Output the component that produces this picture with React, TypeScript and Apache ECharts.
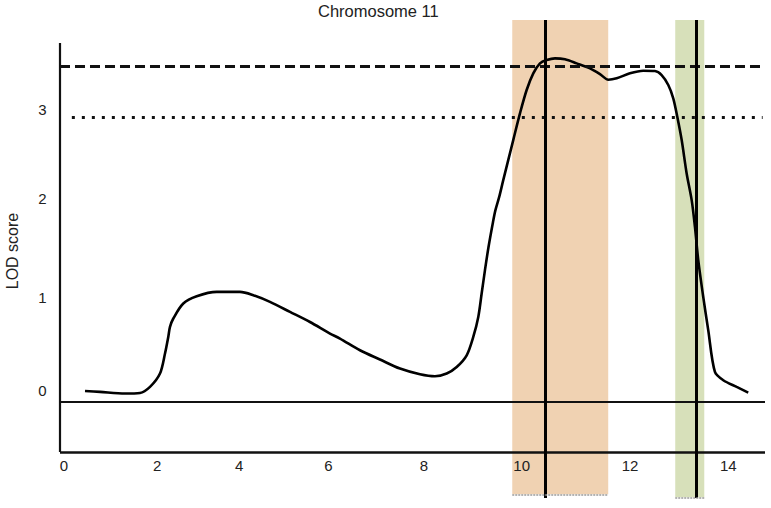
import React, { useEffect, useRef } from "react";
import * as echarts from "echarts";

// ---- data ----
const chartTitle = "Chromosome 11";
const yAxisTitle = "LOD score";
const xTickValues = [0, 2, 4, 6, 8, 10, 12, 14];
const yTickValues = [0, 1, 2, 3];

const lodPositions = [
  0.644, 0.961, 1.488, 1.805, 2.016, 2.227, 2.333, 2.402, 2.438, 2.508,
  2.719, 3.002, 3.424, 3.916, 4.197, 4.549, 4.972, 5.394, 5.816, 6.027,
  6.449, 6.871, 7.294, 7.716, 8.033, 8.28, 8.491, 8.702, 8.841, 8.947,
  9.018, 9.088, 9.162, 9.257, 9.309, 9.39, 9.474, 9.685, 9.827, 9.968, 10.108,
  10.249, 10.391, 10.566, 10.777, 11.024, 11.305, 11.516, 11.691, 11.868, 12.149,
  12.43, 12.677, 12.818, 12.958, 13.063, 13.148, 13.241, 13.346, 13.452, 13.521,
  13.591, 13.696, 13.802, 13.943, 14.119, 14.402, 14.646,
];
const lodScores = [
  0.003, -0.007, -0.024, -0.018, 0.046, 0.187, 0.399, 0.575, 0.681, 0.77,
  0.929, 1.006, 1.052, 1.052, 1.017, 0.946, 0.84, 0.733, 0.611, 0.558,
  0.434, 0.336, 0.24, 0.18, 0.159, 0.188, 0.257, 0.381, 0.575, 0.787,
  1.035, 1.282, 1.525, 1.79, 1.917, 2.06, 2.235, 2.659, 2.942, 3.189, 3.365,
  3.471, 3.506, 3.524, 3.514, 3.471, 3.418, 3.358, 3.298, 3.313, 3.366,
  3.393, 3.39, 3.347, 3.242, 3.101, 2.906, 2.659, 2.306, 2.023, 1.74,
  1.388, 0.999, 0.646, 0.204, 0.117, 0.046, -0.014,
];

const significantThreshold = 3.443; // dashed
const suggestiveThreshold = 2.9; // dotted
const baselineLevel = -0.106;
const axisFloor = -0.643;
const axisTop = 3.686;
const axisLeft = 0.116;
const axisRight = 15;

const peakPositions = [10.37, 13.54];
const intervalStarts = [9.664, 13.105];
const intervalEnds = [11.69, 13.718];
const intervalBottoms = [-1.091, -1.123];
const intervalColors = ["#f0d2b2", "#d7e0ba"];

const X_MIN = 0;
const X_MAX = 15;
const Y_MIN = -1.13;
const Y_MAX = 3.93;

// label nudges (pixels) copying the hand-placed labels of the original figure
const xLabelNudge = [9.3, 8, -4.8, -10.4, -9.4, -6.5, 7.1, 10.7];
const yLabelNudge = [-0.3, 1.2, -4.3, 1.6];

const FONT = "'Liberation Sans', Arial, sans-serif";
const LABEL_STYLE = { fontSize: 15, color: "#222", fontFamily: FONT };

function buildRich(nudges: number[], horizontal: boolean) {
  const rich: Record<string, any> = {};
  nudges.forEach((d, i) => {
    const a = Math.abs(d) * 2;
    const padding = horizontal
      ? d >= 0 ? [0, 0, 0, a] : [0, a, 0, 0]
      : d >= 0 ? [a, 0, 0, 0] : [0, 0, a, 0];
    rich["n" + i] = { ...LABEL_STYLE, padding };
  });
  return rich;
}

export default function App() {
  const ref = useRef<HTMLDivElement>(null);

  useEffect(() => {
    if (!ref.current) return;
    const chart = echarts.init(ref.current, undefined, { renderer: "svg" });

    const seg = (x1: number, y1: number, x2: number, y2: number, lineStyle: any) => [
      { coord: [x1, y1], lineStyle },
      { coord: [x2, y2] },
    ];

    const lines: any[] = [
      seg(axisLeft, axisTop, axisLeft, axisFloor, { color: "#111", width: 2.2, type: "solid" }),
      seg(axisLeft, axisFloor, axisRight, axisFloor, { color: "#111", width: 2.5, type: "solid" }),
      seg(axisLeft, baselineLevel, axisRight, baselineLevel, { color: "#111", width: 2, type: "solid" }),
      seg(axisLeft, significantThreshold, 14.95, significantThreshold, {
        color: "#111", width: 3, type: [10, 5],
      }),
      seg(axisLeft + 0.25, suggestiveThreshold, 14.95, suggestiveThreshold, {
        color: "#111", width: 3, type: [3, 7],
      }),
    ];
    peakPositions.forEach((p) => {
      lines.push(seg(p, Y_MAX, p, Y_MIN, { color: "#000", width: 3, type: "solid" }));
    });
    intervalStarts.forEach((s, i) => {
      lines.push(
        seg(s, intervalBottoms[i], intervalEnds[i], intervalBottoms[i], {
          color: "#9a9a9a", width: 1.5, type: [2, 1],
        })
      );
    });

    const areas = intervalStarts.map((s, i) => [
      { coord: [s, Y_MAX], itemStyle: { color: intervalColors[i] } },
      { coord: [intervalEnds[i], intervalBottoms[i]] },
    ]);

    const labelFormatter = (ticks: number[]) => (v: number) => {
      const i = ticks.findIndex((t) => Math.abs(t - v) < 1e-6);
      return i < 0 ? "" : `{n${i}|${v}}`;
    };

    chart.setOption({
      animation: false,
      backgroundColor: "#ffffff",
      textStyle: { fontFamily: FONT },
      title: {
        text: chartTitle,
        left: 318,
        top: 2,
        padding: 0,
        textStyle: { fontFamily: FONT, fontSize: 16.5, fontWeight: "normal", color: "#222" },
      },
      grid: { left: 54.5, right: 6, top: 20, bottom: 10, containLabel: false, outerBoundsMode: "none" },
      xAxis: {
        type: "value",
        z: 10,
        min: X_MIN,
        max: X_MAX,
        interval: 2,
        offset: -46.3,
        axisLine: { show: false },
        axisTick: { show: false },
        splitLine: { show: false },
        axisLabel: {
          ...LABEL_STYLE,
          margin: 6,
          showMaxLabel: false,
          hideOverlap: false,
          formatter: labelFormatter(xTickValues),
          rich: buildRich(xLabelNudge, true),
        },
      },
      yAxis: {
        type: "value",
        z: 10,
        min: Y_MIN,
        max: Y_MAX,
        axisLine: { show: false },
        axisTick: { show: false },
        splitLine: { show: false },
        axisLabel: {
          ...LABEL_STYLE,
          customValues: yTickValues,
          margin: 8,
          formatter: labelFormatter(yTickValues),
          rich: buildRich(yLabelNudge, false),
        },
      },
      graphic: [
        {
          type: "text",
          x: 12.5,
          y: 251,
          rotation: Math.PI / 2,
          style: {
            text: yAxisTitle,
            fontSize: 16,
            fontFamily: FONT,
            fill: "#222",
            align: "center",
            verticalAlign: "middle",
          },
        },
      ],
      series: [
        {
          type: "line",
          z: 1,
          silent: true,
          data: [],
          markArea: { silent: true, data: areas },
        },
        {
          type: "line",
          z: 3,
          silent: true,
          data: [],
          markLine: {
            silent: true,
            symbol: ["none", "none"],
            label: { show: false },
            data: lines,
          },
        },
        {
          type: "line",
          z: 4,
          silent: true,
          showSymbol: false,
          smooth: 0.3,
          lineStyle: { color: "#000", width: 2.6 },
          data: lodPositions.map((x, i) => [x, lodScores[i]]),
        },
      ],
    });

    return () => chart.dispose();
  }, []);

  return (
    <div
      ref={ref}
      style={{ position: "fixed", left: 0, top: 0, width: 771, height: 508, background: "#fff" }}
    />
  );
}
